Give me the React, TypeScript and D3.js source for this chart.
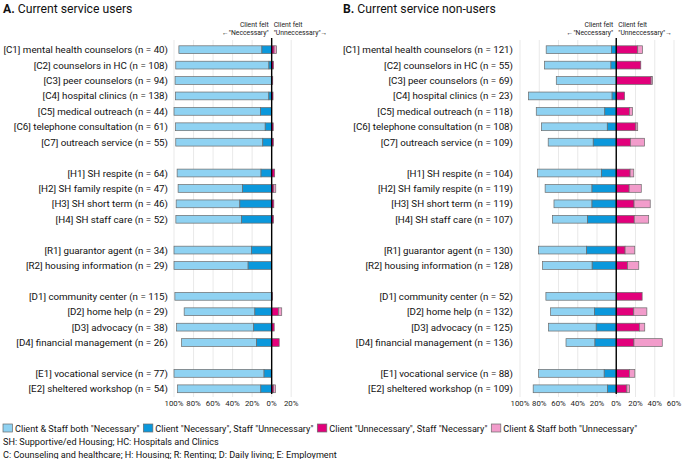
import React from "react";
import * as d3 from "d3";

const codes = ["C1","C2","C3","C4","C5","C6","C7","H1","H2","H3","H4","R1","R2","D1","D2","D3","D4","E1","E2"];
const names = ["mental health counselors","counselors in HC","peer counselors","hospital clinics","medical outreach","telephone consultation","outreach service","SH respite","SH family respite","SH short term","SH staff care","guarantor agent","housing information","community center","home help","advocacy","financial management","vocational service","sheltered workshop"];

const nA = [40,108,94,138,44,61,55,64,47,46,52,34,29,115,29,38,26,77,54];
const bothNecA = [85,95.4,98.9,95.7,88.6,91.8,89.1,85.9,66.0,65.2,67.3,79.4,75.9,99.1,72.4,78.9,76.9,92.2,85.2];
const clientNecA = [10,2.8,0,2.9,11.4,6.6,9.1,10.9,29.8,32.6,30.8,20.6,24.1,0,17.2,18.4,15.4,7.8,11.1];
const clientUnnecA = [2.5,1.9,1.1,1.4,0,1.6,1.8,3.1,2.1,2.2,1.9,0,0,0.9,6.9,2.6,7.7,0,1.9];
const bothUnnecA = [2.5,0,0,0,0,0,0,0,2.1,0,0,0,0,0,3.4,0,0,0,1.9];

const nB = [121,55,69,23,118,108,109,104,119,119,107,130,128,52,132,125,136,88,109];
const bothNecB = [67.8,69.1,62.3,87.0,71.2,68.5,46.8,66.3,48.7,39.5,36.4,50.0,51.6,73.1,45.5,49.6,30.1,68.2,77.1];
const clientNecB = [5.0,5.5,0,4.3,11.9,9.3,23.9,15.4,25.2,25.2,29.9,30.8,25.0,0,22.7,20.8,22.1,12.5,9.2];
const clientUnnecB = [22.3,25.5,36.2,8.7,13.6,20.4,14.7,14.4,13.4,18.5,18.7,9.2,11.7,26.9,18.2,24.0,18.4,13.6,11.0];
const bothUnnecB = [5.0,0,1.4,0,3.4,1.9,14.7,3.8,12.6,16.8,15.0,10.0,11.7,0,13.6,5.6,29.4,5.7,2.8];

const ticksA = [-100,-80,-60,-40,-20,0,20];
const ticksB = [-100,-80,-60,-40,-20,0,20,40,60];

const legendLabels = ['Client & Staff both "Necessary"','Client "Necessary", Staff "Unnecessary"','Client "Unnecessary", Staff "Necessary"','Client & Staff both "Unnecessary"'];
const colors = ["#8fd2f2","#0b98dc","#e2007b","#f29ccb"];
const footnotes = ["SH: Supportive/ed Housing; HC: Hospitals and Clinics","C: Counseling and healthcare; H: Housing; R: Renting; D: Daily living; E: Employment"];

// slots with blank rows between groups
const slots: string[] = [];
codes.forEach((c, i) => {
  if (i > 0 && codes[i - 1][0] !== c[0]) slots.push("gap" + i);
  slots.push(c);
});

const FONT = "Roboto, 'Noto Sans', sans-serif";
const LEG_SIZE = 9.1;

function measure(s: string, size: number): number {
  try {
    const ctx = document.createElement("canvas").getContext("2d");
    if (ctx) {
      ctx.font = `${size}px Roboto`;
      return ctx.measureText(s).width;
    }
  } catch (e) {}
  return s.length * size * 0.48;
}

type PanelProps = {
  title: string; letter: string; titleX: number; labelRight: number;
  x0: number; x1: number; dMin: number; dMax: number; ticks: number[];
  n: number[]; s1: number[]; s2: number[]; s3: number[]; s4: number[];
};

function Panel(p: PanelProps) {
  const x = d3.scaleLinear().domain([p.dMin, p.dMax]).range([p.x0, p.x1]);
  const y = d3.scalePoint<string>().domain(slots).range([49.7, 388.8]);
  const bh = 7.8;
  return (
    <g>
      <text x={p.titleX} y={13} fontFamily={FONT} fontSize={12.2} fill="#111">
        <tspan fontWeight="bold">{p.letter}</tspan>
        <tspan> {p.title}</tspan>
      </text>
      {p.ticks.map((t) => (
        <line key={"g" + t} x1={x(t)} x2={x(t)} y1={40} y2={397} stroke="#e3e3e3" strokeWidth={0.8} />
      ))}
      <text x={x(0) - 3} y={27} textAnchor="end" fontFamily={FONT} fontSize={6.8} fill="#222">Client felt</text>
      <text x={x(0) - 3} y={35} textAnchor="end" fontFamily={FONT} fontSize={6.8} fill="#222">{"\u2190\"Neccessary\""}</text>
      <text x={x(0) + 2} y={27} textAnchor="start" fontFamily={FONT} fontSize={6.8} fill="#222">Client felt</text>
      <text x={x(0) + 2} y={35} textAnchor="start" fontFamily={FONT} fontSize={6.8} fill="#222">{"\"Unneccessary\"\u2192"}</text>
      {codes.map((c, i) => {
        const cy = y(c)!;
        const a = p.s1[i], b = p.s2[i], m = p.s3[i], q = p.s4[i];
        const segs = [
          { v0: -(a + b), v1: -b, col: colors[0] },
          { v0: -b, v1: 0, col: colors[1] },
          { v0: 0, v1: m, col: colors[2] },
          { v0: m, v1: m + q, col: colors[3] },
        ].filter((s) => s.v1 - s.v0 > 0);
        return (
          <g key={c}>
            <text x={p.labelRight} y={cy + 3.5} textAnchor="end" fontFamily={FONT} fontSize={9.75} fill="#111">
              {`[${c}] ${names[i]} (n = ${p.n[i]})`}
            </text>
            {segs.map((s, k) => (
              <rect key={k} x={x(s.v0)} y={cy - bh / 2} width={x(s.v1) - x(s.v0)} height={bh}
                fill={s.col} stroke="#6b6b6b" strokeWidth={0.7} />
            ))}
          </g>
        );
      })}
      <line x1={x(0)} x2={x(0)} y1={38} y2={394} stroke="#000" strokeWidth={1.4} />
      {p.ticks.map((t) => (
        <text key={"t" + t} x={x(t)} y={406} textAnchor="middle" fontFamily={FONT} fontSize={7.8} fill="#222">
          {Math.abs(t) + "%"}
        </text>
      ))}
    </g>
  );
}

export default function App() {
  const legendX: number[] = [];
  let cx = 3;
  legendLabels.forEach((l) => {
    legendX.push(cx);
    cx += 12 + measure(l, LEG_SIZE) + 4;
  });
  return (
    <svg width={685} height={459} style={{ position: "absolute", left: 0, top: 0, background: "#fff" }}>
      <rect width={685} height={459} fill="#fff" />
      <Panel title="Current service users" letter="A." titleX={3} labelRight={168}
        x0={174} x1={291.2} dMin={-100} dMax={20} ticks={ticksA}
        n={nA} s1={bothNecA} s2={clientNecA} s3={clientUnnecA} s4={bothUnnecA} />
      <Panel title="Current service non-users" letter="B." titleX={343} labelRight={513}
        x0={520} x1={674} dMin={-100} dMax={60} ticks={ticksB}
        n={nB} s1={bothNecB} s2={clientNecB} s3={clientUnnecB} s4={bothUnnecB} />
      {legendLabels.map((l, i) => (
        <g key={l}>
          <rect x={legendX[i]} y={424} width={9.5} height={8} fill={colors[i]} stroke="#6b6b6b" strokeWidth={0.7} />
          <text x={legendX[i] + 12} y={431.5} fontFamily={FONT} fontSize={LEG_SIZE} fill="#111">{l}</text>
        </g>
      ))}
      {footnotes.map((f, i) => (
        <text key={f} x={3} y={444.5 + i * 13} fontFamily={FONT} fontSize={LEG_SIZE} fill="#111">{f}</text>
      ))}
    </svg>
  );
}
